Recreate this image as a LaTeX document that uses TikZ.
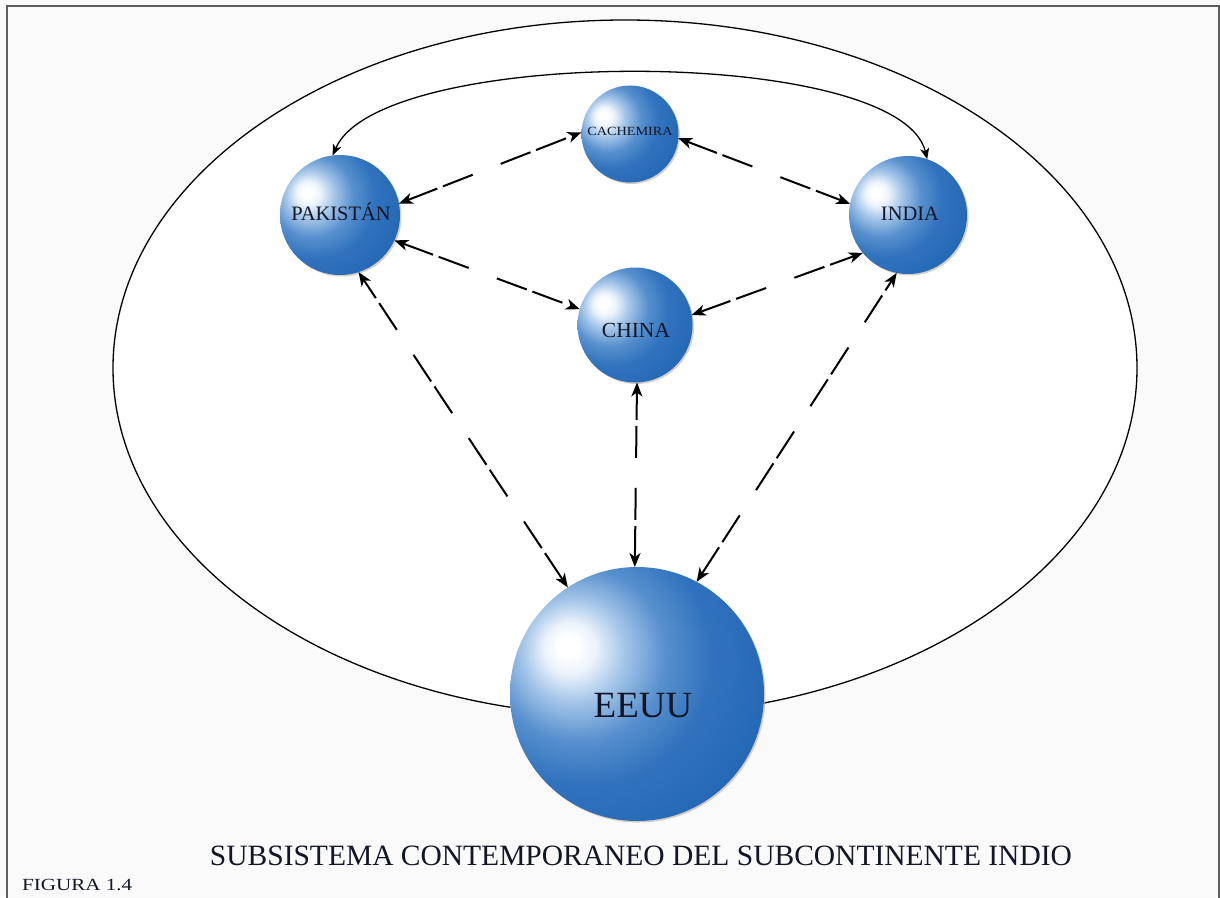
\documentclass[tikz,border=0pt]{standalone}
\usepackage{fontspec}
\setmainfont{Liberation Serif}
\usepackage{graphicx}
\usetikzlibrary{arrows.meta,shadows}

% sphere colours, from the highlight to the darker rim
\definecolor{sphA}{RGB}{255,255,255}
\definecolor{sphB}{RGB}{236,243,251}
\definecolor{sphC}{RGB}{165,198,233}
\definecolor{sphD}{RGB}{88,144,206}
\definecolor{sphE}{RGB}{48,114,189}
\definecolor{sphF}{RGB}{34,102,179}
\definecolor{sphG}{RGB}{28,96,173}
\definecolor{sphshade}{RGB}{185,175,155}
\definecolor{txt}{RGB}{18,22,38}
\definecolor{paper}{RGB}{250,250,250}
\definecolor{framec}{RGB}{95,95,95}

% glossy sphere: light spot up and to the left
\pgfdeclareradialshading{sph}{\pgfpoint{-14bp}{9.5bp}}{%
  color(0bp)=(sphA); color(2bp)=(sphA); color(5bp)=(sphB); color(10bp)=(sphC);
  color(17bp)=(sphD); color(25bp)=(sphE); color(38bp)=(sphF); color(95bp)=(sphG)}

\begin{document}
\begin{tikzpicture}[x=1pt,y=-1pt,
  sphere/.style={circle, inner sep=0pt, outer sep=0pt, shade, shading=sph,
    drop shadow={shadow xshift=1.5pt, shadow yshift=-1.5pt, fill=sphshade, opacity=0.6}},
  lbl/.style={anchor=base, inner sep=0pt, text=txt},
  tipD/.tip={Stealth[length=14pt,width=11pt,inset=4pt]},
  tipS/.tip={Stealth[length=11pt,width=9pt,inset=3pt]},
  link/.style={line width=2pt, dash pattern=on 32pt off 6pt on 32pt off 30pt, tipD-tipD},
  orbit/.style={line width=1.3pt, tipS-tipS}
]
\useasboundingbox (0,0) rectangle (1220,897);

% page and frame
\fill[paper] (0,0) rectangle (1220,897);
\draw[framec, line width=1.5pt] (7,905) -- (7,6) -- (1219,6) -- (1219,905);

% the enclosing subsystem
\filldraw[fill=white, draw=black, line width=1.3pt] (625,368) ellipse [x radius=512, y radius=348];

% actors
\node[sphere, minimum size=120pt] (pak)   at (340,215) {};
\node[sphere, minimum size=118pt] (india) at (908,215) {};
\node[sphere, minimum size=97pt]  (cach)  at (630,134) {};
\node[sphere, minimum size=115pt] (china) at (635,325) {};
\node[sphere, minimum size=254pt] (eeuu)  at (637,694) {};

\node[lbl, font=\fontsize{20.5}{24}\selectfont] (pakname)   at (341,220) {PAKISTÁN};
\node[lbl, font=\fontsize{20.5}{24}\selectfont] (indianame) at (910,220) {INDIA};
\node[lbl, font=\fontsize{12.5}{15}\selectfont] (cachname)  at (630,135) {\scalebox{1.14}[1]{CACHEMIRA}};
\node[lbl, font=\fontsize{21.5}{25}\selectfont] (chinaname) at (636,337) {CHINA};
\node[lbl, font=\fontsize{37}{42}\selectfont]   (eeuuname)  at (643,717) {EEUU};

% Pakistan - India rivalry over the top
\draw[orbit] (pak.97) .. controls (380,45) and (900,45) .. (india.71);

% dashed two-way relations
\draw[link] (pak.11)    -- (cach.178);
\draw[link] (cach.-5)   -- (india.169);
\draw[link] (pak.-25)   -- (china.164);
\draw[link] (china.10)  -- (india.220);
\draw[link] (eeuu.123)  -- (pak.-72);
\draw[link] (eeuu.91)   -- (china.-88);
\draw[link] (eeuu.62)   -- (india.259);

% captions
\node[lbl, font=\fontsize{29.5}{34}\selectfont] (title) at (641,865)
  {SUBSISTEMA CONTEMPORANEO DEL SUBCONTINENTE INDIO};
\node[lbl, anchor=base west, font=\fontsize{17}{20}\selectfont] (fig) at (22,890)
  {\scalebox{1.24}[1]{FIGURA 1.4}};
\end{tikzpicture}
\end{document}
